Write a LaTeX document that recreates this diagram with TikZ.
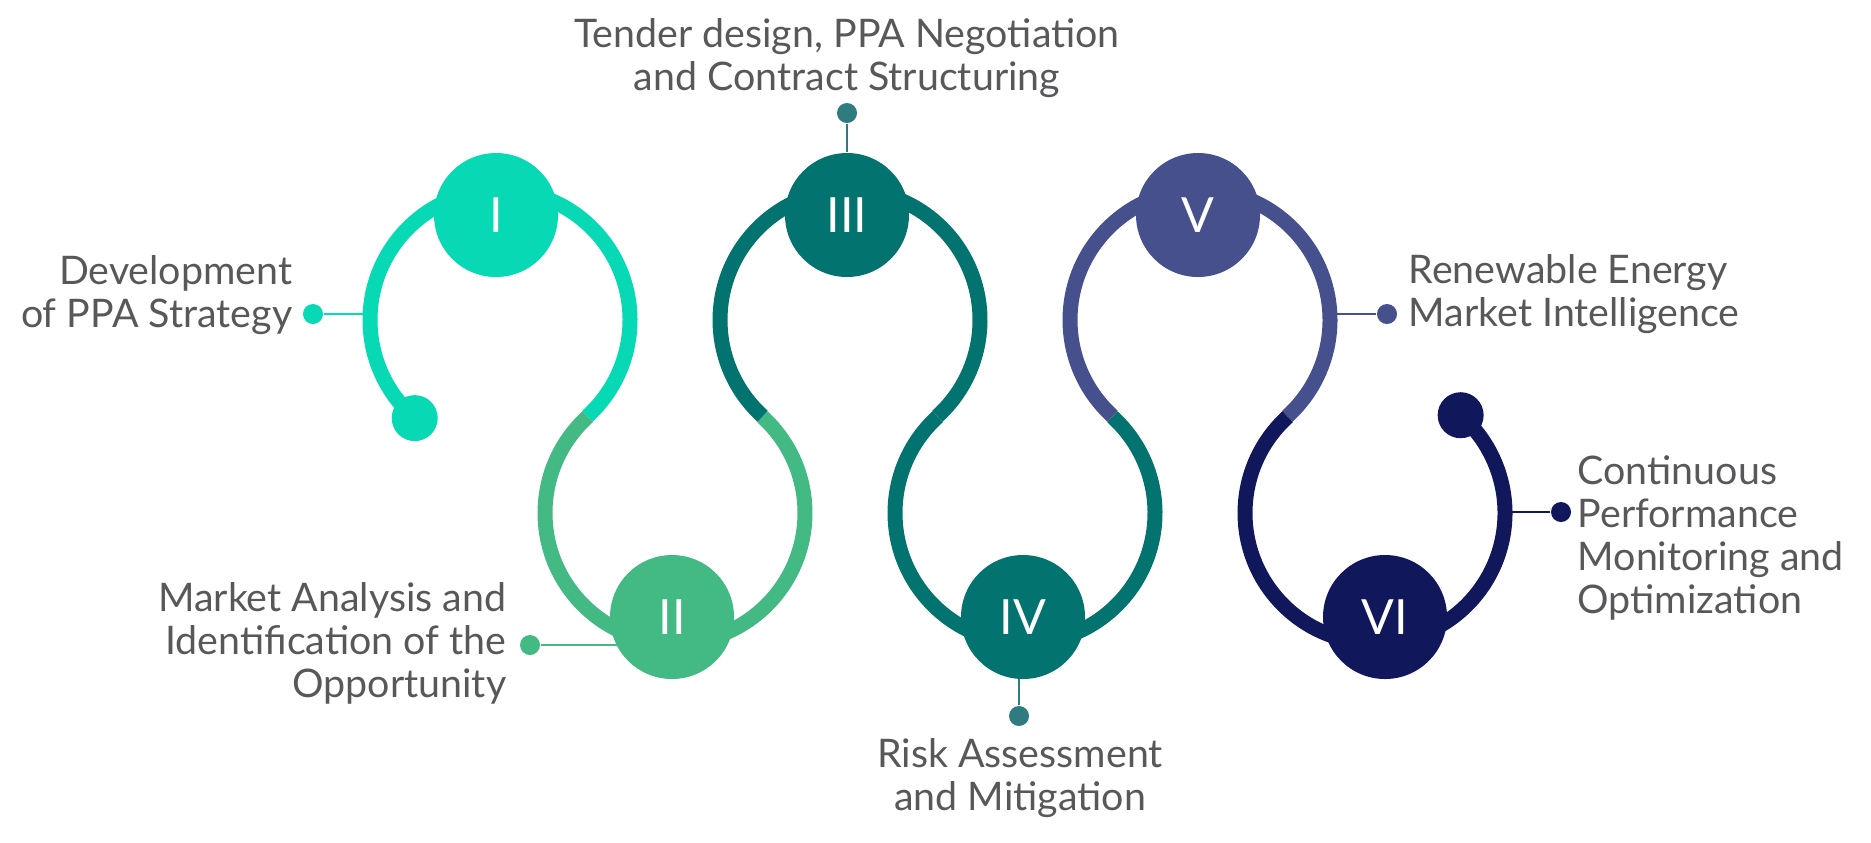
\documentclass[tikz,border=0pt]{standalone}
\usepackage{fontspec}
\setmainfont{Lato}
\usetikzlibrary{positioning,calc,backgrounds}
\definecolor{stepI}{HTML}{06D9B3}
\definecolor{stepII}{HTML}{43B984}
\definecolor{stepIII}{HTML}{02736F}
\definecolor{stepV}{HTML}{45508D}
\definecolor{stepVI}{HTML}{10175A}
\definecolor{pinteal}{HTML}{2E7B80}
\definecolor{ink}{HTML}{58585B}
\tikzset{
  every node/.style={text=ink},
  loopline/.style={line width=1.5mm,line cap=butt},
  stepdisc/.style={circle,minimum size=12.4mm,inner sep=0pt,text=white,font=\fontsize{13.8}{14}\selectfont},
  enddot/.style={circle,minimum size=4.6mm,inner sep=0pt},
  pindot/.style={circle,minimum size=2mm,inner sep=0pt},
  leader/.style={line width=0.6pt},
  caption/.style={font=\fontsize{11.2}{12.2}\selectfont,inner sep=0pt},
}

\begin{document}
\begin{tikzpicture}
\useasboundingbox (0,0) rectangle (18.71,-8.42);

% centres of the six loops
\coordinate (L1) at (5.00,-3.20);
\coordinate (L2) at (6.75,-5.13);
\coordinate (L3) at (8.50,-3.20);
\coordinate (L4) at (10.25,-5.13);
\coordinate (L5) at (12.00,-3.20);
\coordinate (L6) at (13.75,-5.13);

% leader ends on the loops
\coordinate (p1) at (3.70,-3.14);
\coordinate (p5) at (13.30,-3.14);
\coordinate (p6) at (15.05,-5.12);

\node[stepdisc,fill=stepI] (c1) at (4.96,-2.15) {I};
\node[stepdisc,fill=stepII] (c2) at (6.72,-6.17) {II};
\node[stepdisc,fill=stepIII] (c3) at (8.47,-2.15) {III};
\node[stepdisc,fill=stepIII] (c4) at (10.23,-6.17) {IV};
\node[stepdisc,fill=stepV] (c5) at (11.98,-2.15) {V};
\node[stepdisc,fill=stepVI] (c6) at (13.85,-6.17) {VI};

\node[enddot,fill=stepI] (e1) at ($(L1)+(229:1.3)$) {};
\node[enddot,fill=stepVI] (e6) at ($(L6)+(408.8:1.3)$) {};

\node[pindot,fill=stepI] (d1) at (3.13,-3.14) {};
\node[pindot,fill=stepII] (d2) at (5.30,-6.45) {};
\node[pindot,fill=pinteal] (d3) at (8.47,-1.13) {};
\node[pindot,fill=pinteal] (d4) at (10.19,-7.16) {};
\node[pindot,fill=stepV] (d5) at (13.87,-3.14) {};
\node[pindot,fill=stepVI] (d6) at (15.61,-5.12) {};

\begin{scope}[on background layer]
% the chain of loops
\draw[loopline,stepI] (e1.center) arc[start angle=229,end angle=-47.8,radius=1.3];
\draw[loopline,stepII] ($(L2)+(132.2:1.3)$) arc[start angle=132.2,end angle=407.8,radius=1.3];
\draw[loopline,stepIII] ($(L3)+(227.8:1.3)$) arc[start angle=227.8,end angle=-47.8,radius=1.3];
\draw[loopline,stepIII] ($(L4)+(132.2:1.3)$) arc[start angle=132.2,end angle=407.8,radius=1.3];
\draw[loopline,stepV] ($(L5)+(227.8:1.3)$) arc[start angle=227.8,end angle=-47.8,radius=1.3];
\draw[loopline,stepVI] ($(L6)+(132.2:1.3)$) arc[start angle=132.2,end angle=408.8,radius=1.3];

% leaders
\draw[leader,stepI] (d1) -- (p1);
\draw[leader,stepII] (d2) -- (d2 -| c2);
\draw[leader,pinteal] (d3) -- (c3);
\draw[leader,pinteal] (d4) -- (d4 |- c4);
\draw[leader,stepV] (d5) -- (p5);
\draw[leader,stepVI] (d6) -- (p6);
\end{scope}

\node[caption,align=right,anchor=east] (t1) at (2.93,-2.955) {Development\\of PPA Strategy};
\node[caption,align=right,anchor=east] (t2) at (5.07,-6.43) {Market Analysis and\\Identification of the\\Opportunity};
\node[caption,align=center] (t3) at (8.47,-0.58) {Tender design, PPA Negotiation\\and Contract Structuring};
\node[caption,align=center] (t4) at (10.20,-7.78) {Risk Assessment\\and Mitigation};
\node[caption,align=left,anchor=west] (t5) at (14.08,-2.945) {Renewable Energy\\Market Intelligence};
\node[caption,align=left,anchor=west] (t6) at (15.77,-5.38) {Continuous\\Performance\\Monitoring and\\Optimization};

\end{tikzpicture}
\end{document}
